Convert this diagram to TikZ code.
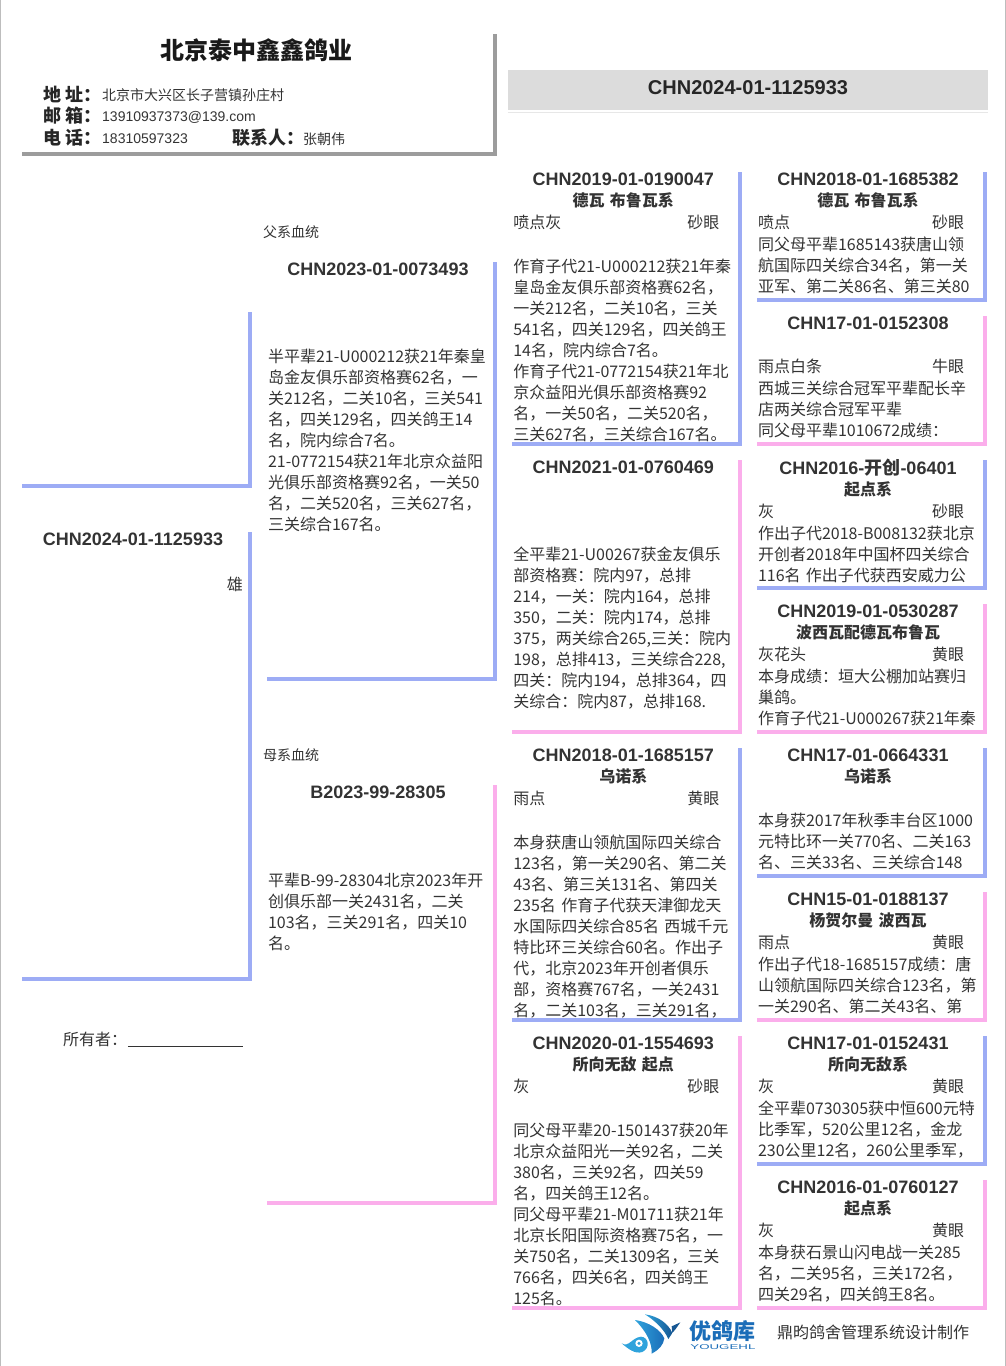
\documentclass[tikz,border=0pt]{standalone}
\usepackage{fontspec}
\setmainfont{Noto Sans CJK SC}
\newfontfamily\latinfont{Liberation Sans}
\definecolor{pedblue}{HTML}{9DACF5}
\definecolor{pedpink}{HTML}{FBAEEB}
\definecolor{boxgray}{HTML}{9C9C9C}
\definecolor{bandgray}{HTML}{DCDCDC}
\definecolor{pagegray}{HTML}{BDBDBD}
\definecolor{textgray}{HTML}{333333}
\definecolor{logoblue}{HTML}{1B6DB8}
\definecolor{logolight}{HTML}{2FA3DC}
\newcommand{\idline}[1]{\makebox[220pt][c]{\strut\fontsize{18}{21}\selectfont\bfseries\latinfont #1}}
\newcommand{\subline}[1]{\makebox[220pt][c]{\bfseries #1}}
\newcommand{\eyeline}[2]{\makebox[206pt][l]{#1\hfill #2}}
\newcommand{\cn}[1]{{\rmfamily #1}}
\tikzset{
  cellbox/.style={anchor=north west, inner sep=0pt, outer sep=0pt, minimum width=#1},
  celltext/.style={anchor=north west, inner sep=0pt, outer sep=0pt, text width=232pt, align=left,
                   xshift=1.3pt, yshift=1.2pt, text=textgray, font=\fontsize{16}{21}\selectfont},
  plainlabel/.style={anchor=west, inner sep=0pt, text=textgray, font=\fontsize{#1}{21}\selectfont},
  headlabel/.style={anchor=west, inner sep=0pt, text=black!85, font=\fontsize{18}{21}\selectfont\bfseries},
  blueline/.style={draw=pedblue, line width=3.6pt},
  pinkline/.style={draw=pedpink, line width=3.6pt},
  grayline/.style={draw=boxgray, line width=3.6pt}
}

\begin{document}
\begin{tikzpicture}[x=1pt, y=-1pt]
    \path[use as bounding box] (0,0) rectangle (1006,1366);
    \coordinate (pagetopl) at (0.7,0);
    \coordinate (pagebotl) at (0.7,1366);
    \coordinate (pagetopr) at (1005.2,0);
    \coordinate (pagebotr) at (1005.2,1366);
    \draw[pagegray, line width=1.4pt] (pagetopl) -- (pagebotl);
    \draw[pagegray, line width=1.4pt] (pagetopr) -- (pagebotr);

    % breeder card
    \node[cellbox=473pt, minimum height=120pt] (card) at (21.7,34) {};
    \node[anchor=center, inner sep=0pt, text=black!90, font=\fontsize{24}{28}\selectfont\bfseries] (cardtitle) at (256,50) {北京泰中鑫鑫鸽业};
    \node[headlabel] (addrlabel) at (43,94) {地 址：};
    \node[headlabel] (maillabel) at (43,116) {邮 箱：};
    \node[headlabel] (tellabel) at (43,138) {电 话：};
    \node[headlabel] (contactlabel) at (232,138) {联系人：};
    \node[plainlabel=14] (addr) at (102,95) {北京市大兴区长子营镇孙庄村};
    \node[plainlabel=14] (mail) at (102,117) {\latinfont 13910937373@139.com};
    \node[plainlabel=14] (tel) at (102,139) {\latinfont 18310597323};
    \node[plainlabel=14] (contact) at (303,139) {张朝伟};

    % ring number band
    \node[anchor=north west, inner sep=0pt, minimum width=480pt, minimum height=40pt, fill=bandgray] (band) at (507.7,70) {};
    \node[inner sep=0pt, text=black!85, font=\fontsize{20}{24}\selectfont\bfseries\latinfont] (bandtext) at (748,88) {CHN2024-01-1125933};
    \draw[bandgray!70, line width=1pt] ([yshift=-2pt]band.south west) -- ([yshift=-2pt]band.south east);

    % subject
    \node[cellbox=228.3pt, minimum height=174pt] (gentop) at (21.7,312) {};
    \node[cellbox=228.3pt, minimum height=447pt] (gensub) at (21.7,532) {};
    \node[celltext] (gensubtext) at (gensub.north west) {\idline{CHN2024-01-1125933}};
    \node[anchor=east, inner sep=0pt, text=textgray, font=\fontsize{16}{21}\selectfont] (gensex) at (243,584) {雄};
    \node[plainlabel=16, anchor=base west] (owner) at (63,1045) {所有者：\hspace{0.6pt}\rule[-1.5pt]{115pt}{0.9pt}};

    % parents
    \node[plainlabel=14] (sirelabel) at (263,232) {父系血统};
    \node[cellbox=228pt, minimum height=417pt] (sire) at (266.7,262) {};
    \node[celltext] (siretext) at (sire.north west) {\idline{CHN2023-01-0073493}\\
      \strut\\[1pt]
      \strut\\[1pt]
      \strut\\[1pt]
      半平辈21-U000212获21年秦皇\\
      岛金友俱乐部资格赛62名，一\\
      关212名，二关10名，三关541\\
      名，四关129名，四关鸽王14\\
      名，院内综合7名。\\
      21-0772154获21年北京众益阳\\
      光俱乐部资格赛92名，一关50\\
      名，二关520名，三关627名，\\
      三关综合167名。};
    \node[plainlabel=14] (damlabel) at (263,755) {母系血统};
    \node[cellbox=228pt, minimum height=418pt] (dam) at (266.7,785) {};
    \node[celltext] (damtext) at (dam.north west) {\idline{B2023-99-28305}\\
      \strut\\[1pt]
      \strut\\[1pt]
      \strut\\[2pt]
      平辈B-99-28304北京2023年开\\
      创俱乐部一关2431名，二关\\
      103名，三关291名，四关10\\
      名。};

    % grandparents
    \node[cellbox=227.7pt, minimum height=272pt] (gpa) at (512,172) {};
    \node[celltext] (gpatext) at (gpa.north west) {\idline{CHN2019-01-0190047}\\
      \subline{德瓦 布鲁瓦系}\\[1pt]
      \eyeline{喷点灰}{砂眼}\\[1pt]
      \strut\\[1pt]
      作育子代21-U000212获21年秦\\
      皇岛金友俱乐部资格赛62名，\\
      一关212名，二关10名，三关\\
      541名，四关129名，四关鸽王\\
      14名，院内综合7名。\\
      作育子代21-0772154获21年北\\
      京众益阳光俱乐部资格赛92\\
      名，一关50名，二关520名，\\
      三关627名，三关综合167名。};
    \node[cellbox=227.7pt, minimum height=272pt] (gpb) at (512,460) {};
    \node[celltext] (gpbtext) at (gpb.north west) {\idline{CHN2021-01-0760469}\\
      \strut\\[1pt]
      \strut\\[1pt]
      \strut\\[1pt]
      全平辈21-U00267获金友俱乐\\
      部资格赛：院内97，总排\\
      214，一关：院内164，总排\\
      350，二关：院内174，总排\\
      375，两关综合265,三关：院内\\
      198，总排413，三关综合228,\\
      四关：院内194，总排364，四\\
      关综合：院内87，总排168.};
    \node[cellbox=227.7pt, minimum height=272pt] (gpc) at (512,748) {};
    \node[celltext] (gpctext) at (gpc.north west) {\idline{CHN2018-01-1685157}\\
      \subline{乌诺系}\\[1pt]
      \eyeline{雨点}{黄眼}\\[1pt]
      \strut\\[1pt]
      本身获唐山领航国际四关综合\\
      123名，第一关290名、第二关\\
      43名、第三关131名、第四关\\
      235名 作育子代获天津御龙天\\
      水国际四关综合85名 西城千元\\
      特比环三关综合60名。作出子\\
      代，北京2023年开创者俱乐\\
      部，资格赛767名，一关2431\\
      名，二关103名，三关291名，};
    \node[cellbox=227.7pt, minimum height=272pt] (gpd) at (512,1036) {};
    \node[celltext] (gpdtext) at (gpd.north west) {\idline{CHN2020-01-1554693}\\
      \subline{所向无敌 起点}\\[1pt]
      \eyeline{灰}{砂眼}\\[1pt]
      \strut\\[1pt]
      同父母平辈20-1501437获20年\\
      北京众益阳光一关92名，二关\\
      380名，三关92名，四关59\\
      名，四关鸽王12名。\\
      同父母平辈21-M01711获21年\\
      北京长阳国际资格赛75名，一\\
      关750名，二关1309名，三关\\
      766名，四关6名，四关鸽王\\
      125名。};

    % great-grandparents
    \node[cellbox=228pt, minimum height=128pt] (gga) at (756.7,172) {};
    \node[celltext] (ggatext) at (gga.north west) {\idline{CHN2018-01-1685382}\\
      \subline{德瓦 布鲁瓦系}\\[1pt]
      \eyeline{喷点}{砂眼}\\[1pt]
      同父母平辈1685143获唐山领\\
      航国际四关综合34名，第一关\\
      亚军、第二关86名、第三关80};
    \node[cellbox=228pt, minimum height=128pt] (ggb) at (756.7,316) {};
    \node[celltext] (ggbtext) at (ggb.north west) {\idline{CHN17-01-0152308}\\
      \strut\\[1pt]
      \eyeline{雨点白条}{牛眼}\\[1pt]
      西城三关综合冠军平辈配长辛\\
      店两关综合冠军平辈\\
      同父母平辈1010672成绩：};
    \node[cellbox=228pt, minimum height=128pt] (ggc) at (756.7,460) {};
    \node[celltext] (ggctext) at (ggc.north west) {\idline{CHN2016-\cn{开创}-06401}\\
      \subline{起点系}\\[1pt]
      \eyeline{灰}{砂眼}\\[1pt]
      作出子代2018-B008132获北京\\
      开创者2018年中国杯四关综合\\
      116名 作出子代获西安威力公};
    \node[cellbox=228pt, minimum height=128pt] (ggd) at (756.7,604) {};
    \node[celltext] (ggdtext) at (ggd.north west) {\idline{CHN2019-01-0530287}\\
      \subline{波西瓦配德瓦布鲁瓦}\\[1pt]
      \eyeline{灰花头}{黄眼}\\[1pt]
      本身成绩：垣大公棚加站赛归\\
      巢鸽。\\
      作育子代21-U000267获21年秦};
    \node[cellbox=228pt, minimum height=128pt] (gge) at (756.7,748) {};
    \node[celltext] (ggetext) at (gge.north west) {\idline{CHN17-01-0664331}\\
      \subline{乌诺系}\\[1pt]
      \strut\\[1pt]
      本身获2017年秋季丰台区1000\\
      元特比环一关770名、二关163\\
      名、三关33名、三关综合148};
    \node[cellbox=228pt, minimum height=128pt] (ggf) at (756.7,892) {};
    \node[celltext] (ggftext) at (ggf.north west) {\idline{CHN15-01-0188137}\\
      \subline{杨贺尔曼 波西瓦}\\[1pt]
      \eyeline{雨点}{黄眼}\\[1pt]
      作出子代18-1685157成绩：唐\\
      山领航国际四关综合123名，第\\
      一关290名、第二关43名、第};
    \node[cellbox=228pt, minimum height=128pt] (ggg) at (756.7,1036) {};
    \node[celltext] (gggtext) at (ggg.north west) {\idline{CHN17-01-0152431}\\
      \subline{所向无敌系}\\[1pt]
      \eyeline{灰}{黄眼}\\[1pt]
      全平辈0730305获中恒600元特\\
      比季军，520公里12名，金龙\\
      230公里12名，260公里季军，};
    \node[cellbox=228pt, minimum height=128pt] (ggh) at (756.7,1180) {};
    \node[celltext] (gghtext) at (ggh.north west) {\idline{CHN2016-01-0760127}\\
      \subline{起点系}\\[1pt]
      \eyeline{灰}{黄眼}\\[1pt]
      本身获石景山闪电战一关285\\
      名，二关95名，三关172名，\\
      四关29名，四关鸽王8名。};

    % brackets go over the text
    \draw[grayline] (card.north east) -- (card.south east) -- (card.south west);
    \foreach \cell in {gentop,gensub,sire,gpa,gpc,gga,ggc,gge,ggg}
      \draw[blueline] (\cell.north east) -- (\cell.south east) -- (\cell.south west);
    \foreach \cell in {dam,gpb,gpd,ggb,ggd,ggf,ggh}
      \draw[pinkline] (\cell.north east) -- (\cell.south east) -- (\cell.south west);

    % logo
    \begin{scope}[shift={(615,1305)}, x=0.3333pt, y=-0.3333pt]
      \shade[left color=logolight, right color=logoblue!80!black] (90,28) .. controls (128,33) and (160,55) .. (172,84)
        -- (160,102) .. controls (150,78) and (125,50) .. (90,28) -- cycle;
      \fill[logoblue!80!black] (170,64) -- (196,52) -- (182,72) -- (172,84) -- cycle;
      \shade[left color=logolight, right color=logoblue] (60,45) .. controls (100,50) and (138,75) .. (148,100)
        .. controls (146,120) and (130,136) .. (110,146)
        .. controls (112,115) and (95,80) .. (60,45) -- cycle;
      \fill[logolight] (20,115) .. controls (42,128) and (50,98) .. (78,95)
        .. controls (102,96) and (106,130) .. (82,141)
        .. controls (60,148) and (40,132) .. (20,115) -- cycle;
      \fill[white] (72,115) circle[radius=11];
      \fill[logolight] (72,115) circle[radius=5];
    \end{scope}
    \node[anchor=west, inner sep=0pt, text=logoblue, font=\fontsize{22}{26}\selectfont\bfseries] (logoname) at (689.5,1331) {优鸽库};
    \node[anchor=west, inner sep=0pt, xscale=1.9, text=logoblue, font=\fontsize{7}{8}\selectfont\latinfont] (logolatin) at (690,1347) {YOUGEHL};
    \node[plainlabel=16] (maker) at (777,1332) {鼎昀鸽舍管理系统设计制作};
\end{tikzpicture}
\end{document}
